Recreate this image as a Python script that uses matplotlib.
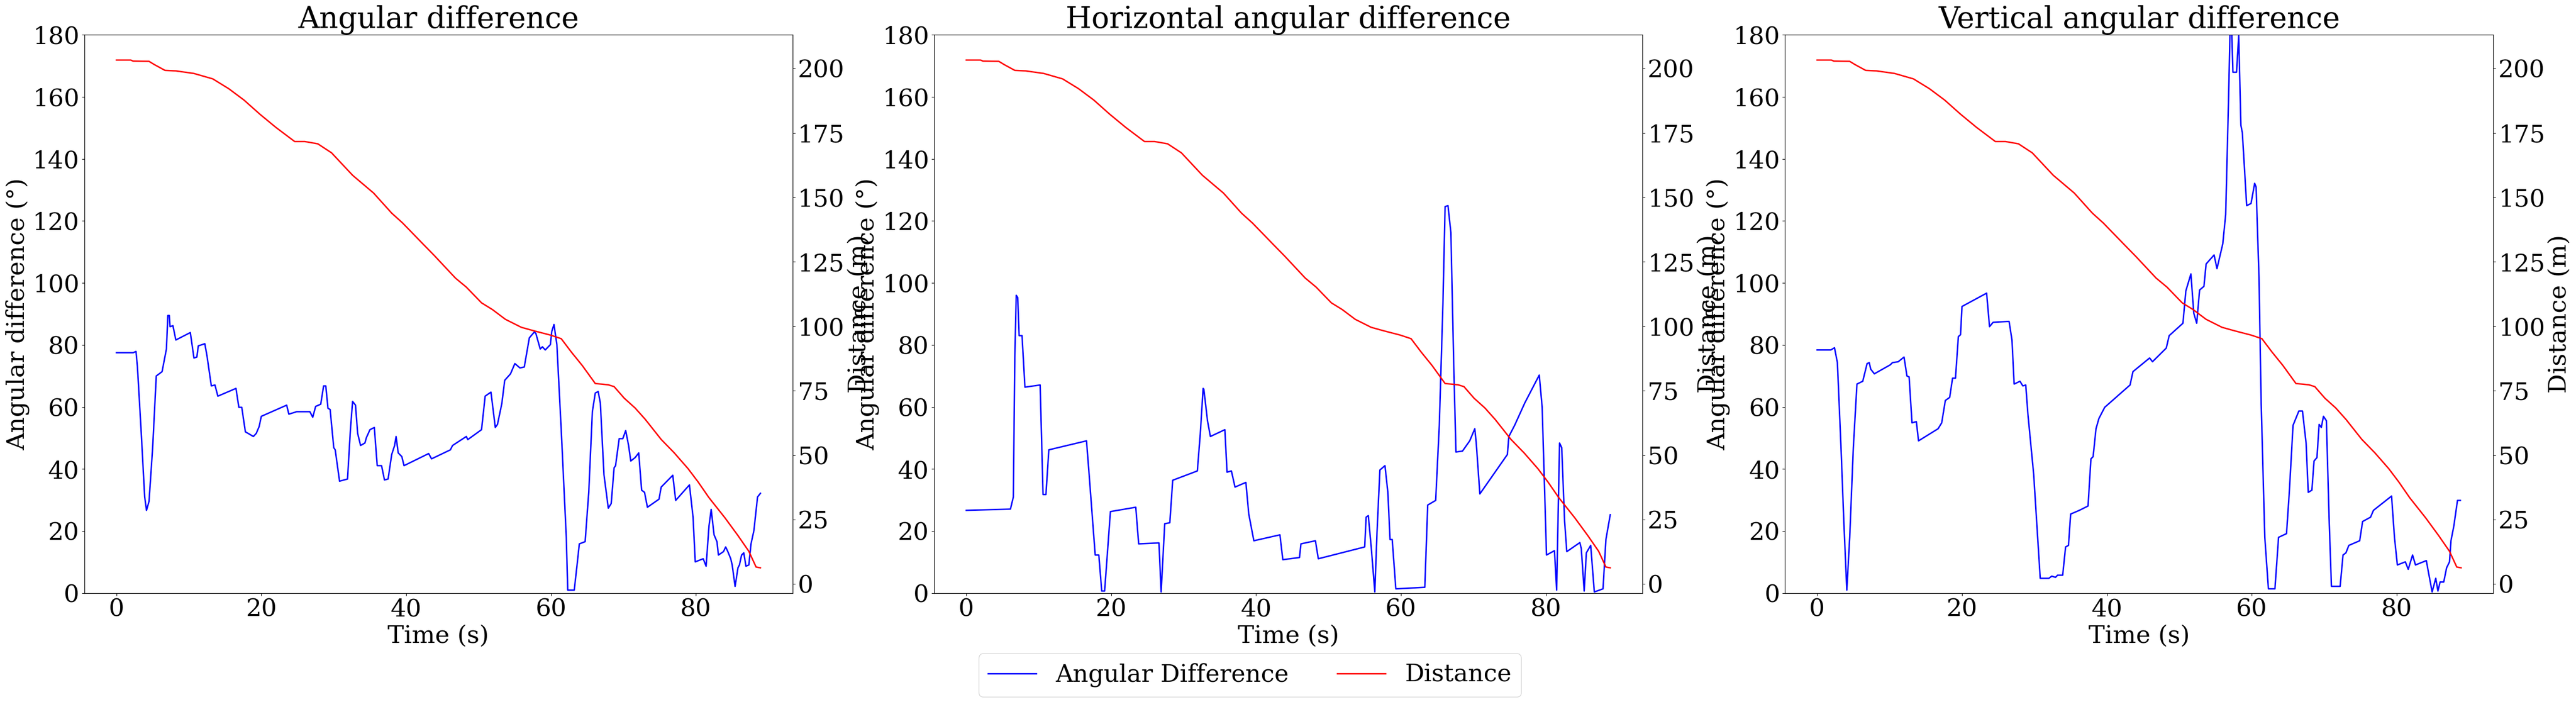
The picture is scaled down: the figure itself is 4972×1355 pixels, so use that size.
import matplotlib
matplotlib.use('Agg')
import matplotlib.pyplot as plt

plt.rcParams['font.family'] = ['DejaVu Serif']

# (time s, distance m), same in every panel
distance = [(0, 203.3), (1.97, 203.3), (2.3, 202.9), (4.5, 202.8), (5.2, 201.6), (6.7, 199.3),
            (8.2, 199.1), (10.7, 198.1), (13.3, 196.0), (15.5, 192.2), (17.6, 187.8),
            (19.8, 182.3), (22.0, 177.2), (24.6, 171.7), (26.0, 171.7), (27.8, 170.8),
            (29.7, 167.3), (32.6, 158.6), (35.5, 151.7), (38.0, 143.9), (39.5, 140.1),
            (42.4, 131.7), (43.9, 127.4), (46.8, 118.7), (48.3, 115.2), (50.4, 109.1),
            (51.9, 106.5), (53.7, 102.7), (55.9, 99.6), (57.7, 98.2), (59.9, 96.6),
            (61.4, 95.2), (62.8, 90.0), (64.3, 84.8), (66.1, 77.8), (67.9, 77.3), (68.7, 76.6),
            (70.1, 72.1), (71.6, 68.3), (73.0, 63.9), (75.2, 56.1), (77.0, 50.9), (78.9, 44.8),
            (80.3, 39.6), (81.8, 33.5), (84.0, 25.7), (85.8, 18.8), (87.3, 12.7), (88.3, 6.6),
            (88.9, 6.3)]

# (time s, total angular difference deg)
angular = [(0, 77.5), (2.3, 77.5), (2.7, 77.9), (2.9, 72.9), (3.4, 52.7), (3.9, 31.0),
           (4.15, 26.7), (4.5, 29.6), (5.0, 46.9), (5.5, 70.0), (6.3, 71.4), (6.9, 78.7),
           (7.1, 89.5), (7.3, 89.5), (7.4, 85.9), (7.8, 86.2), (8.2, 81.6), (10.2, 84.0),
           (10.7, 75.8), (11.1, 76.1), (11.3, 79.7), (12.2, 80.4), (12.5, 76.5), (13.1, 66.8),
           (13.6, 67.1), (14.0, 63.5), (16.5, 66.0), (16.9, 59.9), (17.3, 59.9), (17.8, 52.0),
           (18.4, 51.2), (18.9, 50.5), (19.3, 51.5), (19.7, 53.7), (20.0, 57.0), (23.5, 60.6),
           (23.8, 57.7), (24.9, 58.5), (26.7, 58.5), (27.1, 56.7), (27.5, 60.2), (28.2, 60.9),
           (28.6, 66.8), (28.9, 66.8), (29.2, 59.6), (29.5, 59.2), (30.0, 46.9), (30.2, 46.2),
           (30.8, 36.1), (31.9, 36.8), (32.3, 52.7), (32.6, 61.8), (33.0, 60.6), (33.3, 51.5),
           (33.7, 47.6), (34.3, 48.4), (34.5, 50.1), (35.0, 52.7), (35.6, 53.4), (36.0, 41.1),
           (36.6, 41.1), (37.0, 36.5), (37.5, 36.8), (38.0, 44.7), (38.4, 47.6), (38.6, 50.5),
           (38.9, 45.2), (39.4, 44.0), (39.7, 41.1), (43.1, 45.0), (43.5, 43.3), (46.1, 46.2),
           (46.4, 47.6), (48.3, 50.5), (48.5, 49.5), (50.4, 52.7), (50.9, 63.5), (51.7, 64.8),
           (52.3, 53.4), (52.6, 54.4), (53.2, 61.1), (53.6, 68.6), (54.4, 70.7), (55.0, 74.0),
           (55.4, 73.2), (55.7, 72.6), (56.3, 72.9), (57.0, 82.3), (57.7, 84.2), (57.9, 83.7),
           (58.5, 78.7), (58.8, 79.4), (59.2, 78.4), (59.9, 80.1), (60.1, 84.4), (60.4, 86.6),
           (60.8, 80.1), (61.4, 52.7), (62.1, 18.0), (62.3, 1.0), (63.2, 1.0), (63.6, 9.4),
           (63.9, 15.9), (64.7, 16.6), (65.2, 32.5), (65.7, 58.5), (66.1, 64.5), (66.5, 65.0),
           (66.8, 61.3), (67.3, 38.2), (67.9, 27.4), (68.3, 28.9), (68.7, 40.4), (68.9, 41.1),
           (69.4, 49.8), (69.9, 49.8), (70.3, 52.4), (70.7, 47.6), (71.0, 42.6), (71.6, 43.7),
           (72.1, 45.2), (72.5, 33.2), (72.9, 32.5), (73.3, 27.7), (74.9, 30.3), (75.2, 34.2),
           (76.8, 38.0), (77.2, 29.9), (79.1, 34.9), (79.6, 24.5), (79.9, 10.1), (81.0, 11.1),
           (81.4, 8.7), (81.8, 21.7), (82.1, 27.0), (82.5, 18.8), (82.9, 16.6), (83.1, 12.3),
           (83.8, 13.4), (84.1, 14.9), (84.4, 13.4), (84.8, 11.1), (85.0, 9.1), (85.4, 2.2),
           (85.8, 8.2), (86.0, 9.1), (86.3, 12.3), (86.6, 13.0), (86.9, 8.7), (87.3, 9.1),
           (87.6, 15.9), (88.0, 20.2), (88.5, 31.0), (88.9, 32.2)]

# (time s, horizontal angular difference deg)
horizontal = [(0, 26.7), (6.1, 27.1), (6.5, 31.0), (6.7, 75.8), (6.9, 96.0), (7.1, 95.3),
              (7.3, 83.0), (7.7, 83.0), (8.1, 66.4), (10.2, 67.1), (10.6, 31.8), (11.0, 31.8),
              (11.4, 46.2), (16.6, 49.1), (17.0, 37.1), (17.8, 12.3), (18.3, 12.3), (18.7, 0.7),
              (19.1, 0.7), (19.6, 16.6), (19.9, 26.3), (23.4, 27.7), (23.8, 15.9), (26.6, 16.2),
              (26.9, 0.4), (27.4, 22.4), (28.1, 22.7), (28.5, 36.4), (31.9, 39.4), (32.3, 51.2),
              (32.7, 66.0), (32.8, 65.7), (33.3, 55.6), (33.7, 50.5), (35.7, 52.7), (36.0, 39.0),
              (36.6, 39.4), (37.1, 34.2), (38.6, 35.7), (39.0, 25.5), (39.7, 16.9), (43.3, 18.8),
              (43.7, 10.8), (46.0, 11.5), (46.2, 15.9), (48.2, 16.9), (48.6, 11.1), (55.0, 14.9),
              (55.2, 24.5), (55.5, 25.0), (55.9, 14.9), (56.4, 0.4), (56.7, 19.5), (57.1, 39.7),
              (57.8, 41.1), (58.2, 32.5), (58.5, 17.3), (58.8, 17.3), (59.3, 1.4), (63.3, 1.9),
              (63.7, 28.4), (64.8, 29.9), (65.3, 54.1), (65.8, 93.1), (66.1, 124.6),
              (66.5, 124.9), (66.9, 116.2), (67.3, 72.9), (67.6, 45.5), (68.5, 45.8),
              (69.5, 49.1), (70.2, 53.0), (70.4, 48.4), (70.9, 32.0), (74.7, 44.7), (74.9, 50.5),
              (75.7, 54.1), (77.1, 61.3), (79.1, 70.3), (79.5, 59.9), (80.1, 12.3), (81.2, 13.7),
              (81.5, 1.0), (81.9, 48.4), (82.2, 46.9), (82.6, 23.1), (82.9, 13.4), (84.7, 16.3),
              (84.9, 14.4), (85.3, 0.7), (85.6, 13.0), (86.2, 15.4), (86.7, 0.4), (87.9, 1.4),
              (88.3, 17.3), (88.9, 25.3)]

# (time s, vertical angular difference deg); the peak near 57 s runs past 180
vertical = [(0, 78.4), (1.9, 78.4), (2.4, 79.1), (2.8, 74.3), (3.3, 46.9), (3.7, 22.4),
            (4.1, 1.0), (4.5, 18.0), (5.0, 46.9), (5.5, 67.4), (6.3, 68.3), (6.9, 74.0),
            (7.2, 74.3), (7.4, 72.2), (7.9, 70.7), (10.1, 73.6), (10.4, 74.3), (11.2, 74.6),
            (12.0, 76.1), (12.4, 70.0), (12.7, 69.7), (13.1, 54.9), (13.7, 55.3), (14.0, 49.1),
            (16.7, 53.0), (17.2, 54.9), (17.7, 62.1), (18.3, 63.1), (18.7, 69.3), (19.1, 69.3),
            (19.5, 82.7), (19.8, 83.3), (20.0, 92.4), (23.4, 96.7), (23.8, 85.9), (24.3, 87.3),
            (26.5, 87.6), (26.9, 81.6), (27.2, 67.4), (28.0, 68.3), (28.4, 66.8), (28.8, 67.1),
            (29.1, 57.7), (29.9, 38.2), (30.8, 4.8), (32.0, 4.8), (32.4, 5.5), (32.9, 5.1),
            (33.2, 5.8), (33.9, 5.8), (34.3, 14.9), (34.7, 15.4), (35.0, 25.5), (36.2, 26.7),
            (37.4, 28.1), (37.8, 43.3), (38.1, 44.0), (38.5, 53.0), (38.9, 56.3), (39.7, 59.9),
            (43.2, 67.1), (43.6, 71.4), (45.9, 75.8), (46.3, 74.6), (48.2, 79.0), (48.6, 83.0),
            (50.5, 87.0), (50.9, 97.4), (51.6, 102.9), (52.0, 90.2), (52.4, 87.0), (52.8, 97.7),
            (53.4, 98.9), (53.7, 106.1), (54.8, 109.0), (55.2, 104.6), (56.0, 112.6),
            (56.4, 122.0), (56.8, 159.5), (57.1, 192.0), (57.4, 167.9), (57.9, 167.9),
            (58.2, 179.7), (58.5, 150.8), (58.7, 148.4), (59.3, 124.9), (59.9, 125.6),
            (60.4, 132.1), (60.6, 130.9), (61.0, 101.8), (61.3, 61.3), (61.8, 18.0), (62.3, 1.4),
            (63.2, 1.4), (63.7, 18.0), (64.8, 19.2), (65.2, 33.2), (65.7, 54.1), (66.5, 58.7),
            (67.0, 58.7), (67.5, 48.4), (67.8, 32.5), (68.3, 33.2), (68.6, 42.6), (69.0, 43.7),
            (69.3, 54.4), (69.6, 53.4), (69.9, 57.0), (70.3, 55.6), (70.7, 22.4), (71.0, 2.2),
            (72.2, 2.2), (72.6, 12.3), (73.0, 13.0), (73.4, 15.4), (74.9, 16.9), (75.3, 23.1),
            (76.4, 24.5), (76.8, 26.7), (79.3, 31.3), (79.7, 18.0), (80.1, 9.1), (81.2, 10.1),
            (81.6, 7.7), (82.2, 12.3), (82.6, 9.1), (84.1, 10.5), (84.3, 7.9), (84.9, 0.4),
            (85.4, 4.8), (85.7, 0.7), (86.0, 3.6), (86.5, 3.6), (86.9, 8.2), (87.3, 10.1),
            (87.5, 16.9), (87.9, 21.7), (88.4, 29.9), (88.8, 29.9)]

titles = ['Angular difference', 'Horizontal angular difference', 'Vertical angular difference']
panels = [angular, horizontal, vertical]

dist_t, dist_m = zip(*distance)

fig = plt.figure(figsize=(49.72, 13.55), dpi=100)

lefts = [0.0327, 0.3626, 0.6929]
for i in range(3):
    ax = fig.add_axes([lefts[i], 0.155, 0.275, 0.7956])
    t, v = zip(*panels[i])
    l1, = ax.plot(t, v, color='b', lw=2, label='Angular Difference')
    ax.set_ylim(0, 180)
    ax.set_title(titles[i], fontsize=41)
    ax.set_xlabel('Time (s)', fontsize=34)
    ax.set_ylabel('Angular difference (°)', fontsize=34)
    ax.tick_params(labelsize=34)

    ax2 = ax.twinx()
    l2, = ax2.plot(dist_t, dist_m, color='r', lw=2, label='Distance')
    ax2.set_ylabel('Distance (m)', fontsize=34)
    ax2.tick_params(labelsize=34)

# legend sits a bit left of the figure centre, as in the original
fig.legend([l1, l2], ['Angular Difference', 'Distance'], loc='lower center', ncol=2,
           bbox_to_anchor=(0.4852, 0.0074), borderaxespad=0, fontsize=33.5)

plt.savefig('out.png', dpi=100)
